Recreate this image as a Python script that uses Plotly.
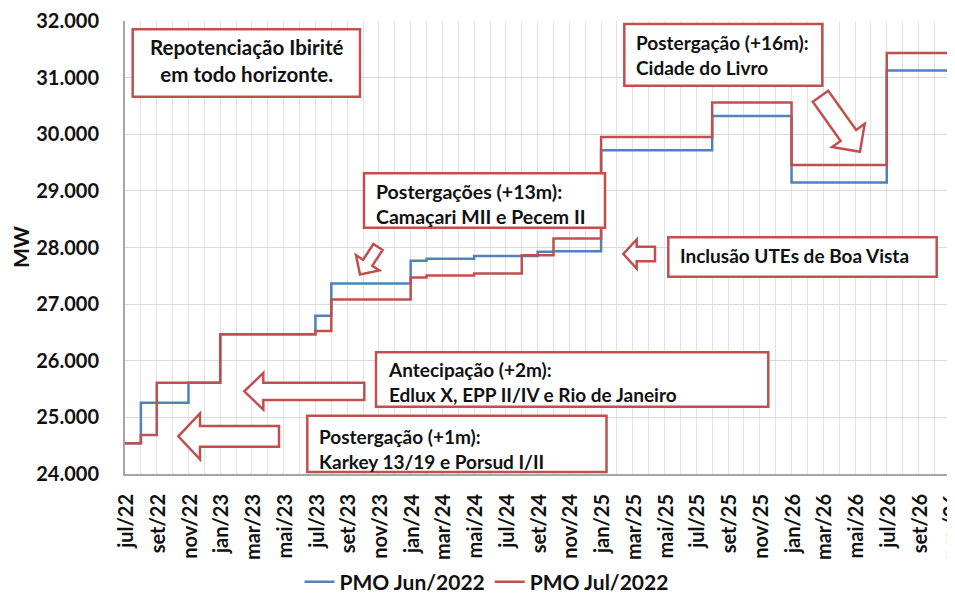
import plotly.graph_objects as go

# ---------------- data ----------------
months = [
    "jul/22", "ago/22", "set/22", "out/22", "nov/22", "dez/22",
    "jan/23", "fev/23", "mar/23", "abr/23", "mai/23", "jun/23",
    "jul/23", "ago/23", "set/23", "out/23", "nov/23", "dez/23",
    "jan/24", "fev/24", "mar/24", "abr/24", "mai/24", "jun/24",
    "jul/24", "ago/24", "set/24", "out/24", "nov/24", "dez/24",
    "jan/25", "fev/25", "mar/25", "abr/25", "mai/25", "jun/25",
    "jul/25", "ago/25", "set/25", "out/25", "nov/25", "dez/25",
    "jan/26", "fev/26", "mar/26", "abr/26", "mai/26", "jun/26",
    "jul/26", "ago/26", "set/26", "out/26", "nov/26", "dez/26",
]

pmo_jun = [
    24542, 25258, 25258, 25258, 25611, 25611,
    26466, 26466, 26466, 26466, 26466, 26466,
    26794, 27366, 27366, 27366, 27366, 27366,
    27765, 27800, 27800, 27800, 27848, 27848,
    27848, 27848, 27925, 27935, 27935, 27935,
    29718, 29718, 29718, 29718, 29718, 29718,
    29718, 30324, 30324, 30324, 30324, 30324,
    29148, 29148, 29148, 29148, 29148, 29148,
    31125, 31125, 31125, 31125, 31125, 31125,
]

pmo_jul = [
    24542, 24688, 25611, 25611, 25611, 25611,
    26466, 26466, 26466, 26466, 26466, 26466,
    26525, 27083, 27083, 27083, 27083, 27083,
    27471, 27505, 27505, 27505, 27542, 27542,
    27542, 27865, 27865, 28159, 28159, 28159,
    29953, 29953, 29953, 29953, 29953, 29953,
    29953, 30560, 30560, 30560, 30560, 30560,
    29459, 29459, 29459, 29459, 29459, 29459,
    31436, 31436, 31436, 31436, 31436, 31436,
]

series_names = ["PMO Jun/2022", "PMO Jul/2022"]
series_colors = ["#4F81BD", "#C0504D"]

tick_labels = months[::2]

# ---------------- geometry (page pixels) ----------------
OFF = 8                      # default page body margin
PAGE_W, PAGE_H = 955, 598
PAGE_L, PAGE_T, PAGE_B = 125, 21, 474
W, H = PAGE_W - OFF, PAGE_H - OFF
PW = PAGE_W - PAGE_L
PH = PAGE_B - PAGE_T
MONTH_PX = 15.87
x_index = list(range(len(months)))
tick_positions = [i + 0.1 for i in range(0, len(months), 2)]

RED = "#C0504D"
FONT = "Lato"


def px(xp):
    return (xp - PAGE_L) / PW


def py(yp):
    return (PAGE_B - yp) / PH


fig = go.Figure()
for name, vals, col in zip(series_names, [pmo_jun, pmo_jul], series_colors):
    fig.add_trace(go.Scatter(
        x=x_index, y=vals, mode="lines", name=name,
        line=dict(color=col, width=2.5, shape="hv"),
    ))

shapes = []


def box(x0, y0, x1, y1):
    shapes.append(dict(type="rect", xref="paper", yref="paper",
                       x0=px(x0), x1=px(x1), y0=py(y1), y1=py(y0),
                       fillcolor="white", line=dict(color=RED, width=2.5),
                       layer="above"))


def arrow(tail, tip, bw, hw, hl):
    tx, ty = tail
    hx, hy = tip
    dx, dy = hx - tx, hy - ty
    ln = (dx * dx + dy * dy) ** 0.5
    ux, uy = dx / ln, dy / ln
    nx, ny = -uy, ux
    kx, ky = hx - ux * hl, hy - uy * hl
    pts = [
        (tx + nx * bw / 2, ty + ny * bw / 2),
        (kx + nx * bw / 2, ky + ny * bw / 2),
        (kx + nx * hw / 2, ky + ny * hw / 2),
        (hx, hy),
        (kx - nx * hw / 2, ky - ny * hw / 2),
        (kx - nx * bw / 2, ky - ny * bw / 2),
        (tx - nx * bw / 2, ty - ny * bw / 2),
    ]
    path = "M " + " L ".join(f"{px(a):.5f},{py(b):.5f}" for a, b in pts) + " Z"
    shapes.append(dict(type="path", xref="paper", yref="paper", path=path,
                       fillcolor="white", line=dict(color=RED, width=2.5),
                       layer="above"))


# boxes
box(132.7, 29.3, 360, 96.7)
box(364, 173.3, 605, 227.7)
box(376, 352.3, 768.3, 406.7)
box(307.3, 415.7, 606.5, 472)
box(668.3, 237.3, 936.7, 276.7)
box(624.3, 24, 822.3, 85.7)

# arrows
arrow((279, 436.3), (178.3, 436.3), 20.7, 46, 21.7)
arrow((364.3, 391.3), (244.3, 391.3), 17.3, 36.7, 19)
arrow((378, 247), (360, 274.5), 11, 28, 14)
arrow((655, 254), (623.3, 254), 14.3, 29, 13.4)
arrow((820.5, 96.2), (860, 151.7), 19, 40, 20)

annots = []


def label(x, y, text, anchor="left", size=19):
    annots.append(dict(xref="paper", yref="paper", x=px(x), y=py(y),
                       text=text, showarrow=False, xanchor=anchor,
                       yanchor="middle", align=anchor if anchor != "center" else "center",
                       font=dict(family=FONT, size=size, color="#111111", weight="bold")))


label(246.3, 60, "Repotenciação Ibirité<br>em todo horizonte.", anchor="center", size=20.5)
label(373.5, 204.2, "Postergações (+13m):<br>Camaçari MII e Pecem II", size=19.5)
label(385.5, 382, "Antecipação (+2m):<br>Edlux X, EPP II/IV e Rio de Janeiro")
label(316.5, 448.5, "Postergação (+1m):<br>Karkey 13/19 e Porsud I/II")
label(677.5, 255, "Inclusão UTEs de Boa Vista")
label(633.5, 55, "Postergação (+16m):<br>Cidade do Livro")

# y axis title
annots.append(dict(xref="paper", yref="paper", x=px(20), y=py(247), text="MW",
                   showarrow=False, textangle=-90, xanchor="center", yanchor="middle",
                   font=dict(family=FONT, size=21, color="#111111", weight="bold")))

fig.update_layout(
    width=W, height=H,
    margin=dict(l=PAGE_L - OFF, r=0, t=PAGE_T - OFF, b=PAGE_H - PAGE_B, autoexpand=False),
    paper_bgcolor="white", plot_bgcolor="white",
    separators=",.",
    shapes=shapes, annotations=annots,
    showlegend=True,
    legend=dict(orientation="h", x=px(486.5), xanchor="center", y=py(582),
                yanchor="middle", font=dict(family=FONT, size=21, color="#111111", weight="bold"),
                itemwidth=30, tracegroupgap=0, bgcolor="rgba(0,0,0,0)"),
    xaxis=dict(
        range=[0, PW / MONTH_PX], automargin=False,
        tickmode="array", tickvals=tick_positions, ticktext=tick_labels,
        tickangle=-90, showgrid=False, zeroline=False,
        ticks="", ticklabelstandoff=10, ticklabeloverflow="allow",
        tickfont=dict(family=FONT, size=20, color="#111111", weight="bold"),
        showline=True, linecolor="#A6A6A6", linewidth=2,
        minor=dict(tickmode="linear", tick0=0, dtick=1, showgrid=True,
                   gridcolor="#E3E3E3", gridwidth=1, ticks=""),
    ),
    yaxis=dict(
        range=[24000, 32000], dtick=1000, tickformat=",.0f", automargin=False,
        showgrid=True, gridcolor="#D9D9D9", gridwidth=1, zeroline=False,
        showline=True, linecolor="#A6A6A6", linewidth=2,
        ticks="", ticklabelstandoff=20,
        tickfont=dict(family=FONT, size=20, color="#111111", weight="bold"),
    ),
)

fig.write_html("out.html")
